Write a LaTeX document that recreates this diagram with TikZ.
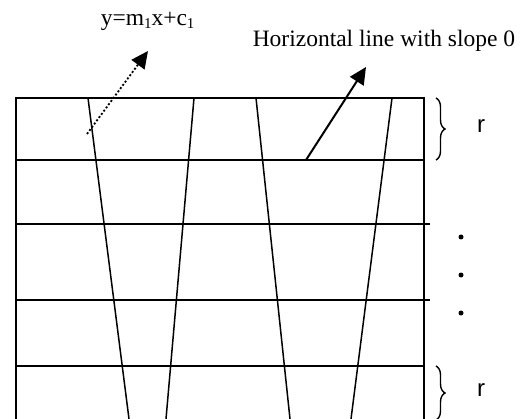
\documentclass[tikz,border=0pt]{standalone}
\usepackage{fontspec}
\setmainfont{Liberation Serif}
\setsansfont{Liberation Sans}
\usetikzlibrary{arrows.meta,decorations.pathreplacing}
\newcommand\idx[1]{\raisebox{-3pt}{\fontsize{15}{15}\selectfont #1}}

\begin{document}
\begin{tikzpicture}[x=1pt, y=-1pt, line width=1.5pt,
    lab/.style={inner sep=0pt, anchor=base west, font=\fontsize{23.5}{26}\selectfont},
    rlab/.style={inner sep=0pt, font=\sffamily\fontsize{24}{26}\selectfont},
    grid line/.style={line width=1.5pt},
    pointer/.style={line width=2pt, -{Triangle[length=17pt, width=16pt]}},
    rbrace/.style={decorate, decoration={brace, amplitude=9pt}, line width=1.4pt}]
  \useasboundingbox (0,0) rectangle (529,419);
  % box edges and row baselines
  \def\xL{16} \def\xR{424} \def\yBot{419}
  % ---- box ------------------------------------------------------------
  \draw[grid line] (\xL,\yBot) -- (\xL,98) -- (\xR,98) -- (\xR,\yBot);
  \foreach \y/\xe in {160/424, 224/430, 300/430, 366/424}{
    \draw[grid line] (\xL,\y) -- (\xe,\y);
  }
  % ---- slanted lines --------------------------------------------------
  \foreach \xt/\xb in {88/129, 194/166, 256/290, 392/351}{
    \draw[grid line] (\xt,98) -- (\xb,\yBot);
  }
  % ---- labels and pointers --------------------------------------------
  \node[lab] (eqn) at (100,26) {y=m\idx{1}x+c\idx{1}};
  \node[lab] (horiz) at (252,47) {Horizontal line with slope 0};
  \coordinate (dotfoot) at (87,134);
  \coordinate (dottip) at (148,51);
  \coordinate (hfoot) at (306,160);
  \coordinate (htip) at (366,67);
  \draw[pointer, dotted, line width=1.8pt] (dotfoot) -- (dottip);
  \draw[pointer] (hfoot) -- (htip);
  % ---- braces on the right --------------------------------------------
  \draw[rbrace] (436,98) -- (436,160);
  \draw[rbrace] (436,366) -- (436,420);
  \node[rlab] (rtop) at (481,126) {r};
  \node[rlab] (rbot) at (481,390) {r};
  \foreach \y in {237,275,313}{
    \fill (461,\y) circle (2.5pt);
  }
\end{tikzpicture}
\end{document}
